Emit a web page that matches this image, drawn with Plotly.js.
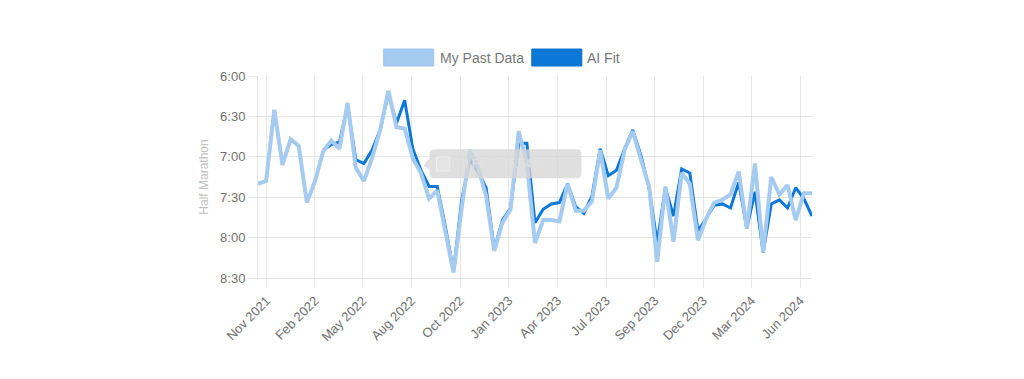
<!DOCTYPE html>
<html>
<head>
<meta charset="utf-8">
<script src="https://cdn.plot.ly/plotly-3.0.1.min.js"></script>
<style>
  html, body { margin: 0; padding: 0; background: #ffffff; }
  #chart { width: 1024px; height: 379px; }
</style>
</head>
<body>
<div id="chart"></div>
<script>
// ---- data (pace values in seconds, e.g. 420 = 7:00) ----
const runIndex = [0,1,2,3,4,5,6,7,8,9,10,11,12,13,14,15,16,17,18,19,20,21,22,23,24,25,26,27,28,29,30,31,32,33,34,35,36,37,38,39,40,41,42,43,44,45,46,47,48,49,50,51,52,53,54,55,56,57,58,59,60,61,62,63,64,65,66,67,68];

const myPastData = [440,438,385,426,407,412,454,438,416,408,414,380,428,438,421,400,371,398,399,421,
                    432,451,445,475,506,458,415,428,449,490,469,459,401,425,484,467,467,468,440,460,
                    460,453,415,451,443,415,401,422,442,498,442,483,432,440,482,466,454,452,448,431,
                    473,425,491,435,448,441,467,447,447];

const aiFit = [null,null,null,null,null,null,null,null,415,411,409,382,422,425,415,400,373,395,378,414,
               430,442,442,472,505,452,422,431,443,489,467,458,410,410,469,459,455,454,440,457,
               462,449,414,434,430,414,400,419,443,484,443,464,429,432,475,466,456,455,458,439,
               473,446,491,455,452,458,443,451,464];

const xTickPos = [1.06,6.99,12.85,18.83,24.80,30.79,36.77,42.74,48.69,54.64,60.59,66.55];
const xTickLabels = ["Nov 2021","Feb 2022","May 2022","Aug 2022","Oct 2022","Jan 2023",
                     "Apr 2023","Jul 2023","Sep 2023","Dec 2023","Mar 2024","Jun 2024"];

const yTickVals = [360,390,420,450,480,510];
const yTickLabels = ["6:00","6:30","7:00","7:30","8:00","8:30"];

const seriesNames = ["My Past Data","AI Fit"];
const seriesColors = ["#a6cbf1","#0b78d8"];

// ---- chart ----
const FONT = "Liberation Sans, Arial, Helvetica, sans-serif";
const GRID = "#e6e6e6";
const TEXT = "#707070";

const traces = [
  {
    x: runIndex, y: aiFit, name: seriesNames[1], type: "scatter", mode: "lines",
    line: {color: seriesColors[1], width: 3, shape: "linear"},
    connectgaps: false, hoverinfo: "skip", showlegend: false
  },
  {
    x: runIndex, y: myPastData, name: seriesNames[0], type: "scatter", mode: "lines",
    line: {color: seriesColors[0], width: 4, shape: "linear"},
    hoverinfo: "skip", showlegend: false
  }
];

function roundRect(x0, y0, x1, y1, rx, ry) {
  return `M${x0+rx},${y1} L${x1-rx},${y1} Q${x1},${y1} ${x1},${y1-ry} L${x1},${y0+ry} Q${x1},${y0} ${x1-rx},${y0} ` +
         `L${x0+rx},${y0} Q${x0},${y0} ${x0},${y0+ry} L${x0},${y1-ry} Q${x0},${y1} ${x0+rx},${y1} Z`;
}

const layout = {
  width: 1024, height: 379,
  margin: {l: 258.4, r: 212, t: 76, b: 100.7, pad: 0},
  paper_bgcolor: "#ffffff", plot_bgcolor: "#ffffff",
  font: {family: FONT, color: TEXT, size: 13},
  showlegend: false,
  xaxis: {
    type: "linear", range: [0, 68], fixedrange: true,
    tickmode: "array", tickvals: xTickPos, ticktext: xTickLabels,
    tickangle: -45, ticks: "outside", ticklen: 9, tickcolor: GRID, tickwidth: 1,
    showgrid: true, gridcolor: GRID, gridwidth: 1,
    zeroline: false, showline: true, linecolor: GRID, linewidth: 1, mirror: false,
    tickfont: {family: FONT, size: 13, color: TEXT}
  },
  yaxis: {
    range: [510, 360], fixedrange: true,
    tickmode: "array", tickvals: yTickVals, ticktext: yTickLabels,
    ticks: "outside", ticklen: 9, tickcolor: GRID, tickwidth: 1,
    showgrid: true, gridcolor: GRID, gridwidth: 1,
    zeroline: false, showline: true, linecolor: GRID, linewidth: 1,
    tickfont: {family: FONT, size: 13, color: TEXT},
    title: {text: "Half Marathon", standoff: 8, font: {family: FONT, size: 12, color: "#c0c0c0"}}
  },
  shapes: [
    {type: "rect", xref: "paper", yref: "paper", x0: 0.2269, x1: 0.3172, y0: 1.0494, y1: 1.1335,
     fillcolor: seriesColors[0], line: {color: "#9cc3ec", width: 1}},
    {type: "rect", xref: "paper", yref: "paper", x0: 0.4942, x1: 0.5845, y0: 1.0494, y1: 1.1335,
     fillcolor: seriesColors[1], line: {color: "#0a70c9", width: 1}},
    {type: "path", xref: "paper", yref: "paper", layer: "above",
     path: roundRect(0.3097, 0.4943, 0.5838, 0.6377, 0.009, 0.0247),
     fillcolor: "rgba(214,214,214,0.78)", line: {width: 0}},
    {type: "path", xref: "paper", yref: "paper", layer: "above",
     path: "M0.3097,0.5952 L0.2989,0.5565 L0.3097,0.5339 Z",
     fillcolor: "rgba(214,214,214,0.78)", line: {width: 0}},
    {type: "rect", xref: "paper", yref: "paper", layer: "above",
     x0: 0.3225, x1: 0.3461, y0: 0.5304, y1: 0.5996,
     fillcolor: "rgba(228,228,228,0.9)", line: {color: "rgba(240,240,240,0.9)", width: 1}}
  ],
  annotations: [
    {xref: "paper", yref: "paper", x: 0.3245, y: 1.0914, xanchor: "left", yanchor: "middle",
     text: seriesNames[0], showarrow: false, font: {family: FONT, size: 14, color: "#777777"}},
    {xref: "paper", yref: "paper", x: 0.5905, y: 1.0914, xanchor: "left", yanchor: "middle",
     text: seriesNames[1], showarrow: false, font: {family: FONT, size: 14, color: "#777777"}},
    {xref: "paper", yref: "paper", x: 0.3552, y: 0.565, xanchor: "left", yanchor: "middle",
     text: "AI Fit: 7:05:54/mi", showarrow: false,
     font: {family: FONT, size: 12, color: "rgba(226,226,226,1)"}}
  ]
};

Plotly.newPlot("chart", traces, layout, {staticPlot: true, displayModeBar: false, responsive: false});
</script>
</body>
</html>
